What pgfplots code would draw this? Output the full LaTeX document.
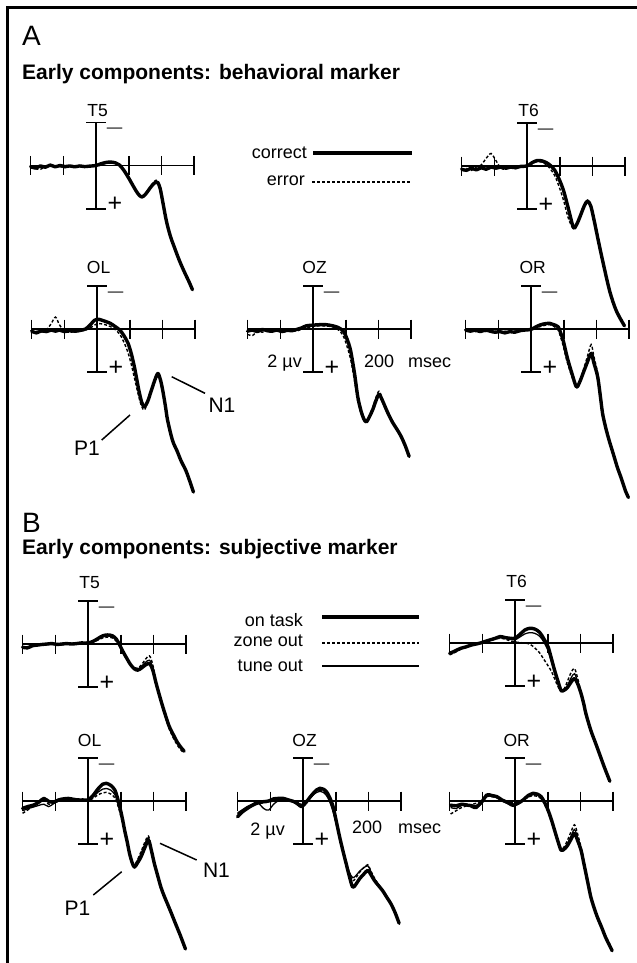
\documentclass[border=0pt]{standalone}
\usepackage{fontspec}
\setmainfont{Liberation Sans}
\usepackage{pgfplots}
\usepackage{pgfplotstable}
\pgfplotsset{compat=1.18}

% ERP waveforms: t in msec, amplitude in microvolts (negative up)
% A: a = correct, b = error
\pgfplotstableread{
t a b
-200 0.05 0.10
-185 0.12 0.15
-170 0.02 0.18
-155 0.08 0.05
-140 -0.02 0.02
-125 0.06 0.08
-110 0.00 0.05
-95 0.05 0.10
-80 0.02 0.04
-65 0.06 0.08
-50 0.02 0.00
-35 0.05 0.06
-20 0.03 0.05
0 0.00 0.04
15 -0.08 -0.02
30 -0.14 -0.10
45 -0.16 -0.12
60 -0.12 -0.10
72 -0.02 0.00
85 0.22 0.25
100 0.58 0.62
115 0.98 1.00
128 1.30 1.30
140 1.46 1.42
152 1.32 1.28
165 1.05 1.00
178 0.82 0.74
188 0.78 0.68
196 1.05 0.98
205 1.75 1.70
215 2.55 2.50
227 3.25 3.22
240 3.80 3.80
255 4.40 4.42
270 4.92 4.95
285 5.40 5.42
295 5.75 5.75
}\tAtfive

\pgfplotstableread{
t a b
-200 0.15 0.20
-185 0.20 0.12
-170 0.10 0.20
-155 0.18 0.05
-140 0.08 -0.05
-125 0.15 -0.35
-110 0.05 -0.58
-95 0.10 -0.25
-80 0.05 0.10
-65 0.10 0.15
-50 0.05 0.05
-35 0.08 0.12
-20 0.02 0.05
0 0.00 0.02
15 -0.15 -0.10
30 -0.25 -0.20
45 -0.24 -0.18
60 -0.15 -0.05
72 -0.02 0.15
85 0.20 0.45
98 0.60 0.95
112 1.15 1.60
127 2.00 2.45
142 2.85 2.90
152 2.70 2.72
162 2.35 2.30
175 1.85 1.80
185 1.62 1.58
195 1.85 1.80
205 2.50 2.40
218 3.45 3.35
233 4.50 4.45
253 5.80 5.75
273 6.70 6.65
298 7.40 7.35
}\tAtsix

\pgfplotstableread{
t a b
-200 0.10 0.15
-185 0.18 0.10
-170 0.08 0.15
-155 0.12 0.05
-140 0.05 -0.25
-127 0.10 -0.55
-115 0.05 -0.20
-100 0.12 0.10
-85 0.08 0.15
-65 0.10 0.12
-50 0.06 0.08
-35 0.00 0.05
-20 -0.20 -0.05
-8 -0.40 -0.18
5 -0.45 -0.25
20 -0.38 -0.22
40 -0.27 -0.12
55 -0.12 0.02
70 0.05 0.25
82 0.30 0.60
95 0.66 1.10
105 1.15 1.65
115 1.80 2.30
128 2.84 3.15
137 3.40 3.60
145 3.60 3.75
155 3.35 3.40
165 2.90 2.90
176 2.40 2.35
186 2.06 2.00
194 2.35 2.30
201 2.84 2.80
209 3.55 3.50
216 4.23 4.18
231 5.16 5.12
245 5.65 5.62
257 6.10 6.08
272 6.56 6.55
285 7.10 7.08
295 7.55 7.52
}\tAol

\pgfplotstableread{
t a b
-200 0.10 0.25
-185 0.05 0.30
-170 0.12 0.10
-155 0.02 0.15
-140 0.08 0.05
-125 0.10 0.15
-110 0.05 0.02
-95 0.12 0.15
-80 0.06 0.10
-65 0.08 0.05
-50 0.02 0.10
-35 -0.05 0.00
-20 -0.15 -0.05
0 -0.18 -0.12
20 -0.20 -0.15
40 -0.20 -0.14
60 -0.15 -0.10
72 -0.10 -0.02
85 0.00 0.15
95 0.15 0.40
105 0.50 0.85
115 1.00 1.40
127 2.06 2.40
137 3.15 3.35
147 3.80 3.90
155 4.15 4.20
163 4.30 4.28
173 4.05 4.00
183 3.72 3.60
193 3.30 3.15
202 3.02 2.88
212 3.30 3.22
224 3.72 3.70
234 4.05 4.02
244 4.34 4.30
257 4.65 4.62
269 4.96 4.95
282 5.40 5.40
294 5.90 5.88
}\tAoz

\pgfplotstableread{
t a b
-200 0.05 0.10
-185 0.10 0.05
-170 0.05 0.12
-155 0.12 0.08
-140 0.05 0.12
-125 0.10 0.05
-110 0.15 0.10
-95 0.12 0.15
-80 0.18 0.10
-65 0.12 0.15
-50 0.15 0.10
-35 0.08 0.12
-20 0.05 0.05
0 0.02 0.05
15 -0.10 -0.05
30 -0.20 -0.12
45 -0.25 -0.18
58 -0.26 -0.20
70 -0.20 -0.12
83 -0.10 0.05
90 0.15 0.35
98 0.50 0.75
105 0.95 1.20
113 1.44 1.65
126 2.10 2.25
139 2.68 2.70
149 2.45 2.40
159 2.06 1.95
172 1.55 1.30
184 1.13 0.72
192 1.55 1.25
204 2.22 2.05
212 3.10 2.95
219 3.92 3.80
229 4.60 4.50
239 5.16 5.10
252 5.80 5.75
264 6.40 6.35
277 6.95 6.90
289 7.50 7.45
298 7.80 7.75
}\tAor

% B: a = on task, b = zone out, c = tune out
\pgfplotstableread{
t a b c
-200 0.15 0.18 0.12
-185 0.18 0.12 0.15
-170 0.08 0.10 0.10
-155 0.05 0.02 0.08
-140 0.02 0.05 0.00
-125 0.00 -0.02 0.03
-110 -0.02 0.02 0.00
-95 0.02 -0.02 0.00
-80 0.00 0.03 0.03
-65 -0.02 0.00 0.00
-50 0.00 -0.03 -0.02
-35 -0.02 0.00 0.00
-20 -0.05 -0.02 -0.03
0 -0.05 -0.02 -0.03
15 -0.12 -0.08 -0.10
30 -0.25 -0.18 -0.22
45 -0.38 -0.28 -0.33
60 -0.42 -0.32 -0.37
75 -0.38 -0.28 -0.33
87 -0.22 -0.12 -0.18
97 0.05 0.12 0.08
107 0.35 0.40 0.38
117 0.62 0.65 0.63
130 0.95 0.95 0.95
142 1.15 1.10 1.12
152 1.21 1.12 1.16
163 1.12 0.98 1.05
175 0.98 0.72 0.86
188 0.90 0.55 0.75
198 1.20 0.95 1.08
208 1.80 1.70 1.75
218 2.35 2.35 2.32
228 2.87 2.95 2.90
238 3.35 3.45 3.40
248 3.80 3.92 3.85
261 4.20 4.35 4.28
274 4.57 4.70 4.62
285 4.80 4.92 4.86
294 4.96 5.05 5.00
}\tBtfive

\pgfplotstableread{
t a b c
-200 0.48 0.55 0.45
-185 0.38 0.45 0.40
-167 0.25 0.30 0.28
-150 0.18 0.20 0.15
-135 0.10 0.12 0.12
-120 0.05 0.05 0.03
-106 0.00 0.02 0.00
-90 -0.08 -0.05 -0.10
-75 -0.15 -0.12 -0.12
-60 -0.22 -0.18 -0.20
-45 -0.30 -0.22 -0.25
-30 -0.25 -0.18 -0.22
-15 -0.22 -0.10 -0.18
0 -0.22 -0.05 -0.15
15 -0.40 -0.02 -0.28
30 -0.60 0.00 -0.42
45 -0.68 0.05 -0.48
60 -0.65 0.22 -0.45
75 -0.50 0.45 -0.32
88 -0.20 0.75 -0.05
101 0.17 1.05 0.35
111 0.70 1.30 0.85
121 1.26 1.65 1.35
131 1.75 2.00 1.80
141 2.20 2.25 2.20
151 2.18 2.10 2.15
161 2.05 1.75 1.95
172 1.80 1.35 1.60
182 1.64 1.18 1.42
192 1.90 1.65 1.80
202 2.34 2.30 2.30
210 2.80 2.85 2.80
217 3.28 3.30 3.25
232 4.05 4.08 4.02
247 4.66 4.70 4.62
260 5.20 5.25 5.18
273 5.74 5.78 5.70
290 6.40 6.45 6.38
}\tBtsix

\pgfplotstableread{
t a b c
-200 0.34 0.57 0.45
-183 0.25 0.40 0.35
-167 0.19 0.22 0.28
-150 0.05 0.10 0.20
-135 -0.12 -0.05 0.15
-120 0.02 0.15 0.26
-105 0.05 0.10 0.12
-90 -0.05 -0.02 0.00
-75 -0.10 -0.05 -0.08
-60 -0.12 -0.10 -0.12
-45 -0.08 -0.05 -0.10
-30 -0.05 -0.02 -0.05
-15 -0.05 0.00 -0.02
0 -0.05 0.00 -0.02
15 -0.25 -0.12 -0.18
30 -0.55 -0.28 -0.40
45 -0.78 -0.38 -0.55
56 -0.82 -0.40 -0.58
70 -0.72 -0.32 -0.50
82 -0.51 -0.15 -0.30
90 -0.15 0.15 0.02
97 0.26 0.50 0.40
105 0.80 1.00 0.92
112 1.35 1.50 1.45
120 1.90 2.00 1.95
127 2.43 2.45 2.45
135 2.85 2.80 2.82
142 3.06 2.95 3.00
152 2.85 2.70 2.75
162 2.59 2.35 2.45
174 2.15 1.90 2.00
185 1.81 1.62 1.70
194 2.30 2.20 2.25
203 2.90 2.85 2.88
213 3.45 3.45 3.45
223 3.99 4.00 3.98
233 4.40 4.45 4.42
243 4.76 4.82 4.78
255 5.20 5.25 5.22
268 5.69 5.72 5.70
283 6.25 6.30 6.28
298 6.85 6.88 6.86
}\tBol

\pgfplotstableread{
t a b c
-200 0.73 0.60 0.55
-185 0.50 0.45 0.40
-170 0.34 0.30 0.25
-155 0.20 0.22 0.15
-140 0.10 0.12 0.05
-120 0.03 0.08 0.35
-105 0.00 0.05 0.42
-90 -0.10 0.00 0.15
-75 -0.12 -0.05 -0.02
-60 -0.12 -0.08 -0.10
-45 -0.05 -0.02 -0.08
-29 0.02 0.05 0.00
-15 0.15 0.10 0.08
-4 0.26 0.15 0.20
10 0.05 0.00 0.05
20 -0.15 -0.15 -0.10
31 -0.35 -0.30 -0.28
42 -0.52 -0.45 -0.40
52 -0.59 -0.50 -0.45
62 -0.55 -0.45 -0.40
72 -0.43 -0.30 -0.25
82 -0.15 0.00 0.05
92 0.26 0.45 0.50
102 0.95 1.05 1.10
112 1.66 1.70 1.75
122 2.30 2.30 2.35
132 2.90 2.85 2.85
142 3.50 3.35 3.30
152 3.99 3.70 3.55
162 3.85 3.55 3.45
173 3.60 3.30 3.25
185 3.40 3.10 3.10
198 3.21 2.95 3.00
208 3.42 3.25 3.28
218 3.67 3.55 3.60
230 3.90 3.85 3.88
243 4.14 4.10 4.12
256 4.45 4.42 4.44
269 4.76 4.74 4.76
282 5.18 5.15 5.17
294 5.66 5.62 5.64
}\tBoz

\pgfplotstableread{
t a b c
-197 0.19 0.60 0.30
-180 0.22 0.45 0.35
-163 0.15 0.30 0.20
-146 0.19 0.22 0.15
-132 0.22 0.15 0.30
-118 0.26 0.10 0.35
-102 0.05 -0.05 0.10
-86 -0.28 -0.22 -0.20
-70 -0.25 -0.20 -0.22
-55 -0.20 -0.15 -0.15
-40 -0.05 -0.05 0.00
-25 0.05 0.02 0.10
-12 0.15 0.05 0.22
-5 0.19 0.05 0.25
10 0.10 0.02 0.12
25 -0.05 -0.05 -0.02
40 -0.25 -0.18 -0.20
56 -0.36 -0.25 -0.30
68 -0.32 -0.22 -0.28
80 -0.20 -0.10 -0.15
90 0.05 0.15 0.10
101 0.42 0.52 0.48
111 0.85 0.95 0.90
121 1.35 1.42 1.38
131 1.85 1.88 1.86
141 2.28 2.25 2.26
151 2.22 2.10 2.18
161 2.05 1.80 1.95
172 1.75 1.40 1.60
182 1.50 1.10 1.32
192 1.85 1.55 1.72
202 2.28 2.15 2.22
210 2.85 2.75 2.80
217 3.36 3.30 3.33
225 3.95 3.92 3.93
232 4.45 4.42 4.43
242 4.95 4.92 4.93
252 5.38 5.36 5.37
265 5.85 5.82 5.84
277 6.31 6.28 6.30
288 6.65 6.62 6.64
297 6.93 6.90 6.92
}\tBor

\tikzset{axln/.style={black, line width=1.6bp}}
\pgfplotsset{
  erp/.style={anchor=origin, x=0.327bp, y=21.6bp, y dir=reverse,
    xmin=-200, xmax=300, ymin=-2, ymax=2,
    axis lines=none, ticks=none, clip=false},
  thickln/.style={black, line width=3.4bp, line cap=round, line join=round,
    smooth, tension=0.5, mark=none},
  dashln/.style={black, line width=1.4bp, dash pattern=on 3bp off 2bp,
    smooth, tension=0.5, mark=none},
  thinln/.style={black, line width=1.3bp, smooth, tension=0.5, mark=none},
}
\newcommand{\labfont}{\fontsize{17.5bp}{17.5bp}\selectfont}
\newcommand{\legfont}{\fontsize{18bp}{18bp}\selectfont}

% cross of axes with ticks, electrode label and polarity signs
\newcommand{\erpcross}[2]{%
  \draw[axln] (axis cs:-200,0) -- (axis cs:300,0);
  \draw[axln] (axis cs:0,-2) -- (axis cs:0,2);
  \draw[axln] (axis cs:-30,-2) -- (axis cs:30,-2);
  \draw[axln] (axis cs:-30,2) -- (axis cs:30,2);
  \draw[axln] (axis cs:-200,-0.44) -- (axis cs:-200,0.44);
  \draw[axln] (axis cs:-100,-0.44) -- (axis cs:-100,0.44);
  \draw[axln] (axis cs:100,-0.44) -- (axis cs:100,0.44);
  \draw[axln] (axis cs:200,-0.44) -- (axis cs:200,0.44);
  \draw[axln] (axis cs:300,-0.44) -- (axis cs:300,0.44);
  \node[inner sep=0pt, font=\labfont] at (axis cs:5,#2) {#1};
  \node[inner sep=0pt, font=\fontsize{15.5bp}{15.5bp}\selectfont] at (axis cs:57,-1.61) {\textemdash};
  \node[inner sep=0pt, font=\fontsize{25bp}{25bp}\selectfont] at (axis cs:58,1.80) {+};
}

% #1 x, #2 y (pixels from top left), #3 label, #4 label height, #5 table
\newcommand{\panelA}[5]{%
  \begin{axis}[erp, at={(#1bp,-#2bp)}]
    \erpcross{#3}{#4}
    \addplot[thickln] table[x=t, y=a] {#5};
    \addplot[dashln] table[x=t, y=b] {#5};
  \end{axis}}
\newcommand{\panelB}[5]{%
  \begin{axis}[erp, at={(#1bp,-#2bp)}]
    \erpcross{#3}{#4}
    \addplot[thickln] table[x=t, y=a] {#5};
    \addplot[dashln] table[x=t, y=b] {#5};
    \addplot[thinln] table[x=t, y=c] {#5};
  \end{axis}}

\begin{document}
\begin{tikzpicture}
\useasboundingbox (0,0) rectangle (637bp,-963bp);
\draw[line width=3bp, line join=miter] (7bp,-963bp) -- (7bp,-7bp) -- (637bp,-7bp);

% headings
\node[anchor=base west, inner sep=0pt, font=\fontsize{28bp}{28bp}\selectfont] at (22bp,-45bp) {A};
\node[anchor=base west, inner sep=0pt, font=\fontsize{21bp}{21bp}\selectfont\bfseries] at (22bp,-79bp) {Early components: behavioral marker};
\node[anchor=base west, inner sep=0pt, font=\fontsize{28bp}{28bp}\selectfont] at (22bp,-532bp) {B};
\node[anchor=base west, inner sep=0pt, font=\fontsize{21bp}{21bp}\selectfont\bfseries] at (22bp,-554bp) {Early components: subjective marker};

% panel A
\panelA{96}{165.5}{T5}{-2.56}{\tAtfive}
\panelA{527}{166}{T6}{-2.56}{\tAtsix}
\panelA{97}{329}{OL}{-2.85}{\tAol}
\panelA{313}{329}{OZ}{-2.85}{\tAoz}
\panelA{531}{329}{OR}{-2.85}{\tAor}

% legend A
\node[anchor=base east, inner sep=0pt, font=\legfont] at (307bp,-158bp) {correct};
\draw[line width=3.4bp] (313bp,-153bp) -- (412bp,-153bp);
\node[anchor=base east, inner sep=0pt, font=\legfont] at (305bp,-185bp) {error};
\draw[line width=1.3bp, dash pattern=on 3bp off 2bp] (312bp,-182bp) -- (411bp,-182bp);

% scale labels A
\node[anchor=base east, inner sep=0pt, font=\legfont] at (302bp,-367bp) {2 µv};
\node[anchor=base west, inner sep=0pt, font=\legfont] at (364bp,-367bp) {200};
\node[anchor=base west, inner sep=0pt, font=\legfont] at (408bp,-367bp) {msec};

% component labels A
\draw[line width=1.5bp] (171.7bp,-376.7bp) -- (205bp,-393.3bp);
\node[inner sep=0pt, font=\fontsize{21bp}{21bp}\selectfont] at (222bp,-405bp) {N1};
\draw[line width=1.5bp] (130bp,-415bp) -- (101.7bp,-440bp);
\node[inner sep=0pt, font=\fontsize{21bp}{21bp}\selectfont] at (87bp,-448bp) {P1};

% panel B
\panelB{88}{644}{T5}{-2.85}{\tBtfive}
\panelB{515}{643}{T6}{-2.85}{\tBtsix}
\panelB{88}{801}{OL}{-2.80}{\tBol}
\panelB{303}{801}{OZ}{-2.80}{\tBoz}
\panelB{515}{801}{OR}{-2.80}{\tBor}

% legend B
\node[anchor=base east, inner sep=0pt, font=\legfont] at (303bp,-626.7bp) {on task};
\draw[line width=3.4bp] (322bp,-617bp) -- (419bp,-617bp);
\node[anchor=base east, inner sep=0pt, font=\legfont] at (303bp,-646.7bp) {zone out};
\draw[line width=1.3bp, dash pattern=on 3bp off 2bp] (322bp,-643bp) -- (419bp,-643bp);
\node[anchor=base east, inner sep=0pt, font=\legfont] at (303bp,-671.7bp) {tune out};
\draw[line width=1.3bp] (322bp,-666bp) -- (419bp,-666bp);

% scale labels B
\node[anchor=base east, inner sep=0pt, font=\legfont] at (285bp,-835bp) {2 µv};
\node[anchor=base west, inner sep=0pt, font=\legfont] at (352bp,-833bp) {200};
\node[anchor=base west, inner sep=0pt, font=\legfont] at (398bp,-833bp) {msec};

% component labels B
\draw[line width=1.5bp] (160bp,-843.3bp) -- (196.7bp,-860bp);
\node[inner sep=0pt, font=\fontsize{21bp}{21bp}\selectfont] at (216.5bp,-870.5bp) {N1};
\draw[line width=1.5bp] (121.7bp,-871.7bp) -- (93.3bp,-895bp);
\node[inner sep=0pt, font=\fontsize{21bp}{21bp}\selectfont] at (77.5bp,-908.5bp) {P1};
\end{tikzpicture}
\end{document}
